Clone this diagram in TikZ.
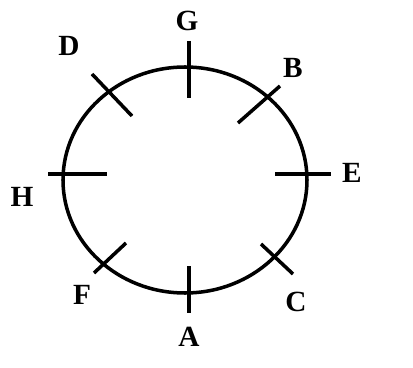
\documentclass[tikz,border=0pt]{standalone}
\usepackage{fontspec}
\setmainfont{Liberation Serif}
\begin{document}
\begin{tikzpicture}[
    x=0.03cm, y=-0.03cm,
    lbl/.style={font=\fontsize{25}{25}\selectfont\bfseries, inner sep=0pt},
    tick/.style={line width=3pt},
    ring/.style={line width=3pt}
]
\useasboundingbox (0,0) rectangle (413,368);

% the circle
\draw[ring] (185,180) ellipse [x radius=122, y radius=113];

% marks on the circle
\coordinate (g1) at (189,41);  \coordinate (g2) at (189,98);
\coordinate (b1) at (280,86);  \coordinate (b2) at (238,123);
\coordinate (e1) at (275,174); \coordinate (e2) at (331,174);
\coordinate (c1) at (261,244); \coordinate (c2) at (293,274);
\coordinate (a1) at (189,266); \coordinate (a2) at (189,313);
\coordinate (f1) at (126,243); \coordinate (f2) at (94,273);
\coordinate (h1) at (48,174);  \coordinate (h2) at (107,174);
\coordinate (d1) at (92,74);   \coordinate (d2) at (132,116);

\draw[tick] (g1) -- (g2);
\draw[tick] (b1) -- (b2);
\draw[tick] (e1) -- (e2);
\draw[tick] (c1) -- (c2);
\draw[tick] (a1) -- (a2);
\draw[tick] (f1) -- (f2);
\draw[tick] (h1) -- (h2);
\draw[tick] (d1) -- (d2);

% labels
\node[lbl] (G) at (187,21) {G};
\node[lbl] (B) at (293,68) {B};
\node[lbl] (E) at (352,173) {E};
\node[lbl] (C) at (296,302) {C};
\node[lbl] (A) at (189,337) {A};
\node[lbl] (F) at (82,295) {F};
\node[lbl] (H) at (22,197) {H};
\node[lbl] (D) at (69,46) {D};
\end{tikzpicture}
\end{document}
